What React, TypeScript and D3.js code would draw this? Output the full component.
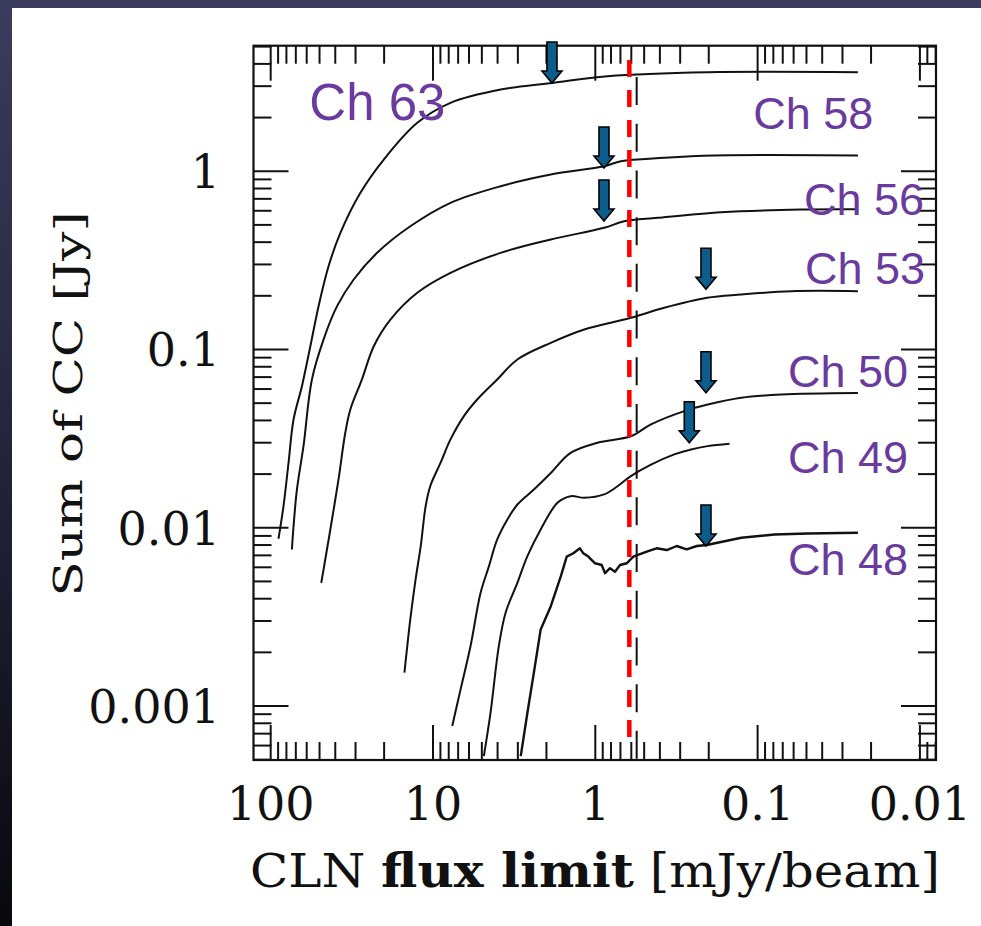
import React from 'react';
import * as d3 from 'd3';

const W = 981;
const H = 926;

// CLN flux limit [mJy/beam] vs Sum of CC [Jy]
const ch63: [number, number][] = [
  [89.5, 0.00868], [83.4, 0.0132], [77.6, 0.0232], [72.3, 0.0405], [64.2, 0.0622], [57.0, 0.104],
  [50.7, 0.175], [44.0, 0.293], [37.2, 0.451], [28.0, 0.757], [20.1, 1.163], [12.5, 1.869],
  [7.8, 2.419], [3.83, 2.872], [1.84, 3.13], [0.841, 3.41], [0.203, 3.59], [0.0241, 3.59],
];
const ch58: [number, number][] = [
  [74.0, 0.00755], [72.3, 0.0102], [68.9, 0.0164], [62.8, 0.0287], [55.7, 0.0679], [47.2, 0.114],
  [39.0, 0.175], [30.8, 0.247], [22.1, 0.3485], [13.8, 0.491], [7.8, 0.665], [3.83, 0.824],
  [1.88, 0.958], [0.882, 1.067], [0.696, 1.138], [0.378, 1.189], [0.186, 1.225], [0.0241, 1.225],
];
const ch56: [number, number][] = [
  [48.8, 0.00491], [46.1, 0.00664], [41.9, 0.01113], [38.2, 0.01866], [34.7, 0.0341], [32.3, 0.0461],
  [27.4, 0.0679], [23.2, 0.104], [18.3, 0.147], [12.5, 0.208], [7.8, 0.269], [3.83, 0.3485],
  [1.88, 0.414], [0.882, 0.4816], [0.664, 0.524], [0.413, 0.548], [0.168, 0.589], [0.0539, 0.61], [0.0241, 0.612],
];
const ch53: [number, number][] = [
  [15.0, 0.00154], [14.4, 0.00217], [13.8, 0.00306], [12.8, 0.00513], [11.9, 0.00788], [11.1, 0.0132],
  [10.4, 0.0171], [8.99, 0.0231], [7.8, 0.0313], [6.45, 0.0423], [5.34, 0.0524], [4.02, 0.0679],
  [3.02, 0.0879], [1.88, 0.109], [1.17, 0.1295], [0.604, 0.1506], [0.376, 0.1714], [0.205, 0.195],
  [0.126, 0.2034], [0.0621, 0.2123], [0.0241, 0.2123],
];
const ch50: [number, number][] = [
  [7.61, 0.000772], [6.76, 0.00124], [5.87, 0.00217], [5.09, 0.00432], [4.52, 0.00609], [4.02, 0.0086],
  [3.48, 0.01113], [3.02, 0.0135], [2.39, 0.0164], [1.88, 0.0203], [1.42, 0.0263], [0.969, 0.03],
  [0.604, 0.0326], [0.454, 0.038], [0.283, 0.0451], [0.203, 0.0491], [0.126, 0.0536], [0.0716, 0.0559], [0.0241, 0.057],
];
const ch49: [number, number][] = [
  [4.86, 0.000524], [4.42, 0.000917], [3.93, 0.00217], [3.57, 0.00334], [3.02, 0.00491], [2.62, 0.00693],
  [2.17, 0.00978], [1.71, 0.0138], [1.42, 0.01503], [1.17, 0.01473], [0.882, 0.01538], [0.729, 0.0171],
  [0.604, 0.01948], [0.454, 0.0226], [0.326, 0.0258], [0.257, 0.0275], [0.203, 0.0287], [0.149, 0.0296],
];
const ch48: [number, number][] = [
  [2.88, 0.000524], [2.62, 0.000917], [2.39, 0.00154], [2.17, 0.00269], [1.88, 0.00363], [1.63, 0.00535],
  [1.5, 0.00689], [1.366, 0.00719], [1.243, 0.00767], [1.186, 0.00719], [1.104, 0.00689], [1.004, 0.00632],
  [0.913, 0.00618], [0.871, 0.00556], [0.812, 0.00593], [0.756, 0.00567], [0.704, 0.00618], [0.641, 0.00632],
  [0.583, 0.00689], [0.482, 0.00734], [0.419, 0.00767], [0.363, 0.0075], [0.315, 0.0079], [0.2735, 0.00757],
  [0.237, 0.0079], [0.206, 0.008], [0.126, 0.00879], [0.0787, 0.00917], [0.049, 0.00929], [0.0241, 0.00937],
];
const smoothSeries = [ch63, ch58, ch56, ch53, ch50, ch49];
const noisySeries = [ch48];

// channel labels: left-baseline anchor in data coordinates
const labelNames = ['Ch 63', 'Ch 58', 'Ch 56', 'Ch 53', 'Ch 50', 'Ch 49', 'Ch 48'];
const labelX = [57.8, 0.1063, 0.0518, 0.051, 0.065, 0.065, 0.065];
const labelY = [1.94, 1.718, 0.568, 0.232, 0.0618, 0.0202, 0.00543];

// arrow tips
const arrowX = [1.849, 0.884, 0.884, 0.208, 0.208, 0.2636, 0.208];
const arrowY = [3.124, 1.042, 0.5256, 0.2176, 0.0572, 0.03, 0.0079];

// vertical reference lines (mJy)
const redLineX = 0.617;
const redLineY = [0.000671, 4.2];
const blackLineX = 0.556;
const blackLineY = [0.000498, 3.375];

const xMajor = [100, 10, 1, 0.1, 0.01];
const xMajorLabels = ['100', '10', '1', '0.1', '0.01'];
const yMajor = [1, 0.1, 0.01, 0.001];
const yMajorLabels = ['1', '0.1', '0.01', '0.001'];

const xDomain: [number, number] = [127.6, 0.00796];
const yDomain: [number, number] = [0.000498, 5.06];

export default function App() {
  const left = 253.5, right = 936, top = 45.7, bottom = 760;
  const x = d3.scaleLog().domain(xDomain).range([left, right]);
  const y = d3.scaleLog().domain(yDomain).range([bottom, top]);

  const smoothLine = d3.line<[number, number]>().x(d => x(d[0])).y(d => y(d[1])).curve(d3.curveCatmullRom.alpha(0.5));
  const rawLine = d3.line<[number, number]>().x(d => x(d[0])).y(d => y(d[1]));

  const logTicks = (dom: [number, number]) => {
    const lo = Math.min(dom[0], dom[1]);
    const hi = Math.max(dom[0], dom[1]);
    const out: { v: number; major: boolean }[] = [];
    for (let e = -4; e <= 3; e++) {
      for (let k = 1; k <= 9; k++) {
        const v = k * Math.pow(10, e);
        if (v >= lo * 0.999 && v <= hi * 1.001) out.push({ v, major: k === 1 });
      }
    }
    return out;
  };
  const xt = logTicks(xDomain);
  const yt = logTicks(yDomain);
  const MAJ = 35, MIN = 18;
  const serif = '"DejaVu Serif", serif';

  return (
    <svg width={W} height={H} style={{ position: 'absolute', left: 0, top: 0, display: 'block' }}
      xmlns="http://www.w3.org/2000/svg">
      <defs>
        <linearGradient id="bg" x1="0" y1="0" x2="0" y2="1">
          <stop offset="0" stopColor="#3b3c5e" />
          <stop offset="0.5" stopColor="#23243a" />
          <stop offset="1" stopColor="#08080d" />
        </linearGradient>
      </defs>
      <rect x={0} y={0} width={W} height={H} fill="url(#bg)" />
      <rect x={12} y={8} width={W - 12} height={H - 8} fill="#ffffff" />

      {/* ticks */}
      <g stroke="#111" strokeWidth={2}>
        {xt.map((t, i) => {
          const px = x(t.v);
          const len = t.major ? MAJ : MIN;
          return (
            <g key={'xt' + i}>
              <line x1={px} x2={px} y1={bottom} y2={bottom - len} />
              <line x1={px} x2={px} y1={top} y2={top + len} />
            </g>
          );
        })}
        {yt.map((t, i) => {
          const py = y(t.v);
          const len = t.major ? MAJ : MIN;
          return (
            <g key={'yt' + i}>
              <line x1={left} x2={left + len} y1={py} y2={py} />
              <line x1={right} x2={right - len} y1={py} y2={py} />
            </g>
          );
        })}
      </g>

      {/* black dashed reference */}
      <line x1={x(blackLineX)} x2={x(blackLineX)} y1={y(blackLineY[1])} y2={y(blackLineY[0])}
        stroke="#111" strokeWidth={2} strokeDasharray="28 18.7" />

      {/* curves */}
      <g fill="none" stroke="#111" strokeWidth={2} strokeLinejoin="round">
        {smoothSeries.map((s, i) => (
          <path key={'c' + i} d={smoothLine(s) || ''} />
        ))}
        {noisySeries.map((s, i) => (
          <path key={'n' + i} d={rawLine(s) || ''} strokeWidth={2.4} />
        ))}
      </g>

      {/* frame */}
      <rect x={left} y={top} width={right - left} height={bottom - top} fill="none" stroke="#111" strokeWidth={2.2} />

      {/* red dashed line */}
      <line x1={x(redLineX)} x2={x(redLineX)} y1={y(redLineY[1])} y2={y(redLineY[0])}
        stroke="#ff0000" strokeWidth={4.5} strokeDasharray="17 13" />

      {/* arrows */}
      {arrowX.map((ax, i) => {
        const tx = x(ax);
        const ty = y(arrowY[i]);
        const d = `M${tx - 5},${ty - 41} L${tx + 5},${ty - 41} L${tx + 5},${ty - 12} L${tx + 10},${ty - 12} L${tx},${ty} L${tx - 10},${ty - 12} L${tx - 5},${ty - 12} Z`;
        return <path key={'a' + i} d={d} fill="#0d5d8c" stroke="#000" strokeWidth={1.6} strokeLinejoin="miter" />;
      })}

      {/* channel labels */}
      {labelNames.map((n, i) => (
        <text key={'l' + i} x={x(labelX[i])} y={y(labelY[i])} fill="#6a3a9e"
          fontFamily='"Liberation Sans", Arial, sans-serif' fontSize={i === 0 ? 51 : 45}>{n}</text>
      ))}

      {/* x tick labels */}
      {xMajor.map((v, i) => (
        <text key={'xl' + i} x={x(v)} y={820} textAnchor="middle" fontFamily={serif} fontSize={46} fill="#111">
          {xMajorLabels[i]}
        </text>
      ))}
      {/* y tick labels */}
      {yMajor.map((v, i) => (
        <text key={'yl' + i} x={220} y={y(v) + 17} textAnchor="end" fontFamily={serif} fontSize={46} fill="#111">
          {yMajorLabels[i]}
        </text>
      ))}

      {/* axis titles */}
      <text x={250} y={887} fontFamily={serif} fontSize={46} fill="#111" textLength={690} lengthAdjust="spacingAndGlyphs">
        CLN <tspan fontWeight="bold">flux limit</tspan> [mJy/beam]
      </text>
      <text transform="translate(82,404) rotate(-90)" textAnchor="middle" fontFamily={serif} fontSize={40}
        fill="#111" textLength={385} lengthAdjust="spacingAndGlyphs">
        Sum of CC [Jy]
      </text>
    </svg>
  );
}
